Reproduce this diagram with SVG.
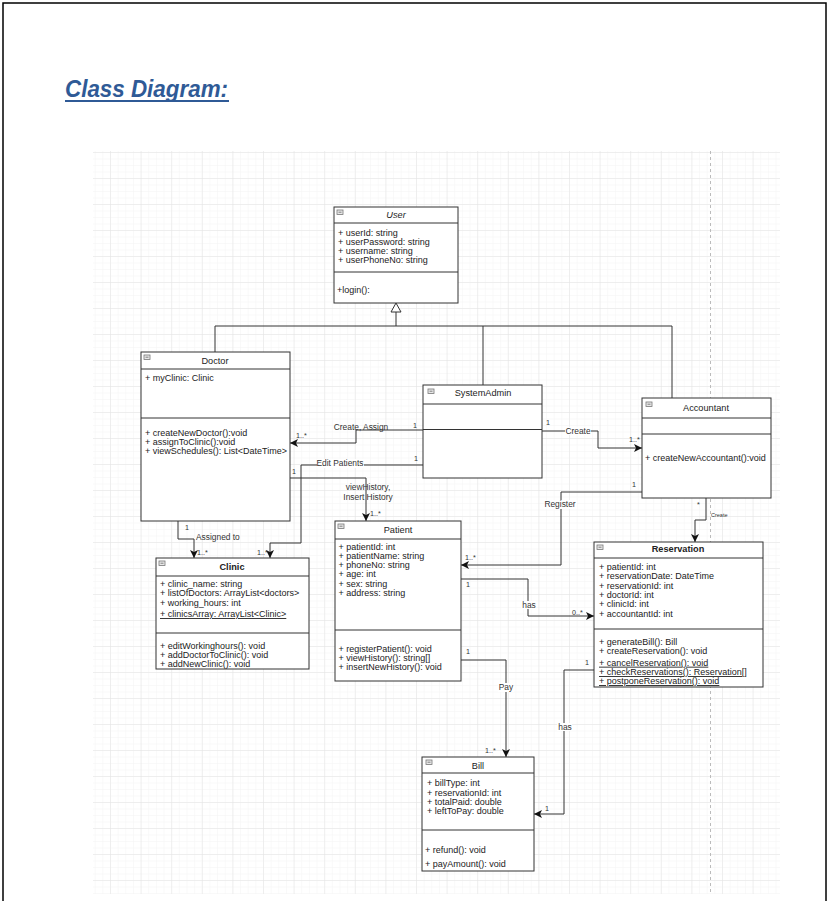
<svg xmlns="http://www.w3.org/2000/svg" width="829" height="901" viewBox="0 0 829 901">
<style>
text{font-family:"Liberation Sans",Arial,sans-serif;fill:#222}
.m{font-size:9px}
.t{font-size:9.2px;text-anchor:middle}
.b{font-weight:bold}
.l{font-size:8.4px;fill:#333}
.s{font-size:7.2px;fill:#333}
.u{text-decoration:underline}
.box{fill:#fff;stroke:#333;stroke-width:1}
.sep{stroke:#333;stroke-width:1}
.ic{fill:#e8e8e8;stroke:#777;stroke-width:0.8}
.e{fill:none;stroke:#333;stroke-width:1}
.bg{fill:#fff}
</style>
<defs>
<pattern id="gmin" patternUnits="userSpaceOnUse" x="110" y="152" width="7.65" height="6.5">
<path d="M7.65 0H0V6.5" fill="none" stroke="#f3f3f3" stroke-width="1"/>
</pattern>
<pattern id="gmaj" patternUnits="userSpaceOnUse" x="110" y="152" width="30.6" height="26">
<path d="M30.6 0H0V26" fill="none" stroke="#e4e4e4" stroke-width="1"/>
</pattern>
<marker id="ar" markerUnits="userSpaceOnUse" markerWidth="9" markerHeight="9" refX="8" refY="4" orient="auto">
<path d="M0,0 L8,4 L0,8 L2,4 z" fill="#111"/>
</marker>
</defs>
<rect x="0" y="0" width="829" height="901" fill="#fff"/>
<rect x="3" y="3" width="823" height="920" fill="none" stroke="#000" stroke-width="1.5"/>
<text x="65" y="97" font-size="23" font-weight="bold" font-style="italic" textLength="163" lengthAdjust="spacingAndGlyphs" style="fill:#2f5a96">Class Diagram:</text>
<rect x="65" y="100" width="164" height="2" fill="#2f5a96"/>
<rect x="93" y="151" width="687" height="743" fill="url(#gmin)"/>
<rect x="93" y="151" width="687" height="743" fill="url(#gmaj)"/>
<line x1="710.5" y1="151" x2="710.5" y2="894" stroke="#bbb" stroke-width="1" stroke-dasharray="3,3"/>

<g id="connectors">
<path class="e" d="M215,352V326H672V398M483,385V326M396,326V312"/>
<polygon points="396,303 391,312 401,312" fill="#fff" stroke="#333"/>
<path class="e" d="M423,430H356V443H290" marker-end="url(#ar)"/>
<path class="e" d="M423,465H301V543H270V558" marker-end="url(#ar)"/>
<path class="e" d="M290,478H366V521" marker-end="url(#ar)"/>
<path class="e" d="M178,521V539H194V558" marker-end="url(#ar)"/>
<path class="e" d="M542,431H598V448H642" marker-end="url(#ar)"/>
<path class="e" d="M642,492H561V565H461" marker-end="url(#ar)"/>
<path class="e" d="M461,579H528V616H594" marker-end="url(#ar)"/>
<path class="e" d="M461,660H506V757" marker-end="url(#ar)"/>
<path class="e" d="M594,670H564V814H534" marker-end="url(#ar)"/>
<path class="e" d="M706,498V520H695V542" marker-end="url(#ar)"/>

<text class="l" x="361" y="430" text-anchor="middle">Create, Assign</text>
<text class="s" x="413" y="428">1</text>
<text class="s" x="296" y="438">1..*</text>
<rect class="bg" x="317" y="459" width="47" height="9"/>
<text class="l" x="340" y="466" text-anchor="middle">Edit Patients</text>
<text class="s" x="414" y="461">1</text>
<text class="s" x="292" y="474">1</text>
<text class="l" x="368" y="490" text-anchor="middle">viewHistory,</text>
<text class="l" x="368" y="500" text-anchor="middle">Insert History</text>
<text class="s" x="370" y="516">1..*</text>
<text class="s" x="185" y="530">1</text>
<text class="l" x="196" y="540">Assigned to</text>
<text class="s" x="197" y="555">1..*</text>
<text class="s" x="257" y="555">1..*</text>
<rect class="bg" x="565" y="427" width="26" height="8"/>
<text class="l" x="578" y="434" text-anchor="middle">Create</text>
<text class="s" x="546" y="425">1</text>
<text class="s" x="629" y="442">1..*</text>
<text class="s" x="632" y="487">1</text>
<rect class="bg" x="544" y="500" width="33" height="9"/>
<text class="l" x="560" y="507" text-anchor="middle">Register</text>
<text class="s" x="697" y="507">*</text>
<text x="711" y="517" style="font-size:5.5px;fill:#333">Create</text>
<text class="s" x="465" y="560">1..*</text>
<text class="s" x="466" y="587">1</text>
<rect class="bg" x="521" y="601" width="15" height="8"/>
<text class="l" x="529" y="608" text-anchor="middle">has</text>
<text class="s" x="572" y="615">0..*</text>
<text class="s" x="466" y="654">1</text>
<rect class="bg" x="498" y="683" width="16" height="9"/>
<text class="l" x="506" y="690" text-anchor="middle">Pay</text>
<text class="s" x="485" y="753">1..*</text>
<text class="s" x="585" y="665">1</text>
<rect class="bg" x="557" y="723" width="15" height="8"/>
<text class="l" x="565" y="730" text-anchor="middle">has</text>
<text class="s" x="545" y="811">1</text>
</g>

<g id="user">
<rect class="box" x="334" y="207" width="124" height="96"/>
<line class="sep" x1="334" y1="223" x2="458" y2="223"/>
<line class="sep" x1="334" y1="272" x2="458" y2="272"/>
<rect class="ic" x="337" y="210" width="6" height="4.5"/><line x1="338.5" y1="212.2" x2="341.5" y2="212.2" stroke="#555" stroke-width="0.7"/>
<text class="t" x="396" y="218" font-style="italic">User</text>
<text class="m" x="338" y="235.5">+ userId: string</text>
<text class="m" x="338" y="244.8">+ userPassword: string</text>
<text class="m" x="338" y="253.8">+ username: string</text>
<text class="m" x="338" y="263">+ userPhoneNo: string</text>
<text class="m" x="337" y="292.5">+login():</text>
</g>

<g id="doctor">
<rect class="box" x="141" y="352" width="149" height="169"/>
<line class="sep" x1="141" y1="369" x2="290" y2="369"/>
<line class="sep" x1="141" y1="418" x2="290" y2="418"/>
<rect class="ic" x="144" y="355" width="6" height="4.5"/><line x1="145.5" y1="357.2" x2="148.5" y2="357.2" stroke="#555" stroke-width="0.7"/>
<text class="t" x="215" y="364">Doctor</text>
<text class="m" x="145" y="381">+ myClinic: Clinic</text>
<text class="m" x="145" y="435.5">+ createNewDoctor():void</text>
<text class="m" x="145" y="445">+ assignToClinic():void</text>
<text class="m" x="145" y="454">+ viewSchedules(): List&lt;DateTime&gt;</text>
</g>

<g id="systemadmin">
<rect class="box" x="423" y="385" width="119" height="93"/>
<line class="sep" x1="423" y1="404" x2="542" y2="404"/>
<line class="sep" x1="423" y1="429.5" x2="542" y2="429.5"/>
<rect class="ic" x="428" y="389" width="6" height="4.5"/><line x1="429.5" y1="391.2" x2="432.5" y2="391.2" stroke="#555" stroke-width="0.7"/>
<text class="t" x="483" y="396">SystemAdmin</text>
</g>

<g id="accountant">
<rect class="box" x="642" y="398" width="129" height="100"/>
<line class="sep" x1="642" y1="418" x2="771" y2="418"/>
<line class="sep" x1="642" y1="434" x2="771" y2="434"/>
<rect class="ic" x="646" y="402" width="6" height="4.5"/><line x1="647.5" y1="404.2" x2="650.5" y2="404.2" stroke="#555" stroke-width="0.7"/>
<text class="t" x="706" y="411">Accountant</text>
<text class="m" x="645" y="461">+ createNewAccountant():void</text>
</g>

<g id="clinic">
<rect class="box" x="156" y="558" width="153" height="111"/>
<line class="sep" x1="156" y1="576" x2="309" y2="576"/>
<line class="sep" x1="156" y1="633" x2="309" y2="633"/>
<rect class="ic" x="159" y="561" width="6" height="4.5"/><line x1="160.5" y1="563.2" x2="163.5" y2="563.2" stroke="#555" stroke-width="0.7"/>
<text class="t b" x="232" y="570">Clinic</text>
<text class="m" x="160" y="587">+ clinic_name: string</text>
<text class="m" x="160" y="596.3">+ listOfDoctors: ArrayList&lt;doctors&gt;</text>
<text class="m" x="160" y="605.7">+ working_hours: int</text>
<text class="m u" x="160" y="617">+ clinicsArray: ArrayList&lt;Clinic&gt;</text>
<text class="m" x="160" y="648.7">+ editWorkinghours(): void</text>
<text class="m" x="160" y="658">+ addDoctorToClinic(): void</text>
<text class="m" x="160" y="667">+ addNewClinic(): void</text>
</g>

<g id="patient">
<rect class="box" x="335" y="521" width="126" height="160"/>
<line class="sep" x1="335" y1="539" x2="461" y2="539"/>
<line class="sep" x1="335" y1="630" x2="461" y2="630"/>
<rect class="ic" x="338" y="524" width="6" height="4.5"/><line x1="339.5" y1="526.2" x2="342.5" y2="526.2" stroke="#555" stroke-width="0.7"/>
<text class="t" x="398" y="533">Patient</text>
<text class="m" x="338.5" y="549.7">+ patientId: int</text>
<text class="m" x="338.5" y="559">+ patientName: string</text>
<text class="m" x="338.5" y="568">+ phoneNo: string</text>
<text class="m" x="338.5" y="577.3">+ age: int</text>
<text class="m" x="338.5" y="586.7">+ sex: string</text>
<text class="m" x="338.5" y="596">+ address: string</text>
<text class="m" x="338.5" y="652">+ registerPatient(): void</text>
<text class="m" x="338.5" y="661">+ viewHistory(): string[]</text>
<text class="m" x="338.5" y="670.3">+ insertNewHistory(): void</text>
</g>

<g id="reservation">
<rect class="box" x="594" y="542" width="169" height="145"/>
<line class="sep" x1="594" y1="558" x2="763" y2="558"/>
<line class="sep" x1="594" y1="629" x2="763" y2="629"/>
<rect class="ic" x="597" y="545" width="6" height="4.5"/><line x1="598.5" y1="547.2" x2="601.5" y2="547.2" stroke="#555" stroke-width="0.7"/>
<text class="t b" x="678" y="552">Reservation</text>
<text class="m" x="599" y="570.3">+ patientId: int</text>
<text class="m" x="599" y="579.3">+ reservationDate: DateTime</text>
<text class="m" x="599" y="588.7">+ reservationId: int</text>
<text class="m" x="599" y="598">+ doctorId: int</text>
<text class="m" x="599" y="607.3">+ clinicId: int</text>
<text class="m" x="599" y="616.7">+ accountantId: int</text>
<text class="m" x="599" y="644.7">+ generateBill(): Bill</text>
<text class="m" x="599" y="653.7">+ createReservation(): void</text>
<text class="m u" x="599" y="665.7">+ cancelReservation(): void</text>
<text class="m u" x="599" y="675">+ checkReservations(): Reservation[]</text>
<text class="m u" x="599" y="684">+ postponeReservation(): void</text>
</g>

<g id="bill">
<rect class="box" x="422" y="757" width="112" height="114"/>
<line class="sep" x1="422" y1="773" x2="534" y2="773"/>
<line class="sep" x1="422" y1="830" x2="534" y2="830"/>
<rect class="ic" x="426" y="760" width="6" height="4.5"/><line x1="427.5" y1="762.2" x2="430.5" y2="762.2" stroke="#555" stroke-width="0.7"/>
<text class="t" x="478" y="769">Bill</text>
<text class="m" x="427" y="786.3">+ billType: int</text>
<text class="m" x="427" y="795.7">+ reservationId: int</text>
<text class="m" x="427" y="805">+ totalPaid: double</text>
<text class="m" x="427" y="814.3">+ leftToPay: double</text>
<text class="m" x="425" y="853">+ refund(): void</text>
<text class="m" x="425" y="867">+ payAmount(): void</text>
</g>
</svg>
